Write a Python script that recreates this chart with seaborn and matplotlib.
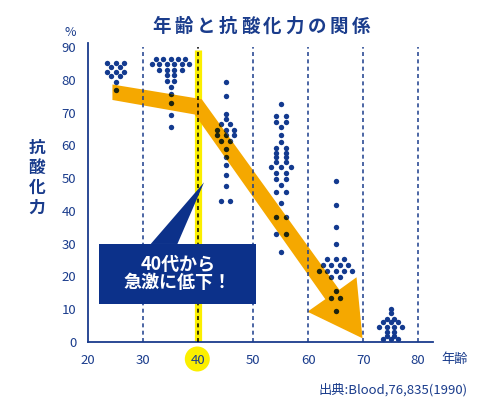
import warnings
warnings.filterwarnings("ignore")
import numpy as np
import pandas as pd
import matplotlib
matplotlib.use("Agg")
import matplotlib.pyplot as plt
import seaborn as sns
from matplotlib.patches import Polygon, Ellipse, Rectangle

# ---------------- data ----------------
ages = [25, 35, 45, 55, 65, 75]
g25 = [85, 85, 85, 84, 84, 82.5, 82.5, 82.5, 81, 81, 79.3, 76.8]
g35 = [86.2, 86.2, 86.2, 86.2, 86.2, 84.7, 84.7, 84.7, 84.7, 84.7, 84.7,
       83, 83, 83, 83, 81.4, 81.4, 79.5, 79.5, 77.8, 75.5, 72.8, 69.3, 65.5]
g45 = [79.2, 74.9, 69.6, 67.9, 66.4, 66.4, 64.6, 64.6, 64.6, 63, 63, 63,
       61.3, 61.3, 58.8, 56.3, 53.9, 50.9, 47.7, 43.1, 43.1]
g55 = [72.7, 68.9, 68.9, 67, 67, 65.5, 63.1, 60.9, 59.2, 59.2, 57.8, 57.8,
       56.3, 56.3, 54.8, 54.8, 53.4, 53.4, 53.4, 51.7, 51.7, 49.8, 49.8,
       47.8, 45.8, 45.8, 42.5, 38, 38, 33, 33, 27.4]
g65 = [49.1, 41.8, 35, 29.8, 25.2, 25.2, 25.2, 23.5, 23.5, 23.5, 23.5,
       21.7, 21.7, 21.7, 21.7, 21.7, 19.9, 19.9, 15.6, 13.3, 13.3, 9.5]
g75 = [10, 8.7, 7, 7, 6, 6, 6, 4.5, 4.5, 4.5, 4.5, 3.1, 3.1, 1.9, 1.9,
       0.8, 0.8, 0.8]
groups = [g25, g35, g45, g55, g65, g75]

xticks = [20, 30, 40, 50, 60, 70, 80]
yticks = [0, 10, 20, 30, 40, 50, 60, 70, 80, 90]
grid_x = [30, 40, 50, 60, 70, 80]
highlight_age = 40
title = "年齢と抗酸化力の関係"
ylabel = "抗酸化力"
xlabel = "年齢"
unit = "%"
source = "出典:Blood,76,835(1990)"
callout = ["40代から", "急激に低下！"]

# arrow outline (data units)
arrow_xy = [(24.44, 78.55), (40.67, 74.07), (65.67, 15.95), (68.8, 19.74),
            (69.89, 1.13), (59.89, 9.24), (63.13, 13.06), (39.4, 69.4),
            (24.44, 73.83)]

# ---------------- style ----------------
sns.set_style("white")
plt.rcParams['font.family'] = ['Noto Sans CJK JP', 'DejaVu Sans']

NAVY = "#1a3c8c"
DOT = "#133a8f"
DARKDOT = "#1c2410"
ORANGE = "#f5a800"
YELLOW = "#fbef00"
BOX = "#0c318a"

W, H = 500, 407
fig = plt.figure(figsize=(W / 100, H / 100), dpi=100)
ax = fig.add_axes([88 / W, 1 - 342 / H, (433 - 88) / W, (342 - 42.7) / H])
ax.set_facecolor('none')
XMIN, XMAX = 20, 82.7
ax.set_xlim(XMIN, XMAX)
ax.set_ylim(0, 91.3)

# dot-plot layout: equal values form a centred row (horizontal pitch, px)
row_pitch_px = [8.4, 7.4, 8.8, 10.0, 8.3, 7.6]
px2x = (XMAX - XMIN) / (433 - 88)


def row_offsets(vals, step):
    vals = np.asarray(vals, dtype=float)
    off = np.zeros(len(vals))
    for v in np.unique(vals):
        idx = np.where(vals == v)[0]
        n = len(idx)
        off[idx] = (np.arange(n) - (n - 1) / 2) * step
    return off


df = pd.DataFrame({
    'age': np.repeat(ages, [len(g) for g in groups]),
    'val': np.concatenate(groups),
    'pos': np.concatenate([a + row_offsets(g, p * px2x)
                           for a, g, p in zip(ages, groups, row_pitch_px)]),
})

DOT_S = 15

# vertical guides
ax.plot([highlight_age, highlight_age], [0, 89], color=YELLOW, lw=5.2,
        solid_capstyle='butt', zorder=1)

sns.scatterplot(data=df, x='pos', y='val', color=DOT, s=DOT_S, linewidth=0,
                ax=ax, zorder=2)

arrow = Polygon(arrow_xy, closed=True, facecolor=ORANGE, edgecolor='none',
                zorder=3)
ax.add_patch(arrow)

for gx in grid_x:
    ax.plot([gx, gx], [0, 90], color=('black' if gx == highlight_age else NAVY),
            lw=1.1, ls=(0, (2.6, 2.2)), zorder=3.5)

n0 = len(ax.collections)
sns.scatterplot(data=df, x='pos', y='val', color=DARKDOT, s=DOT_S,
                linewidth=0, ax=ax, zorder=4)
for c in ax.collections[n0:]:
    c.set_clip_path(arrow)

# callout
ax.add_patch(Polygon([(31.4, 29.9), (36.25, 29.9), (41.09, 48.7)],
                     closed=True, facecolor=BOX, edgecolor='none', zorder=6))
ax.add_patch(Rectangle((21.98, 11.6), 28.6, 18.4, facecolor=BOX,
                       edgecolor='none', zorder=6))
ax.text(36.3, 23.6, callout[0], ha='center', va='center', color='white',
        fontsize=13, weight='bold', zorder=7)
ax.text(36.3, 18.0, callout[1], ha='center', va='center', color='white',
        fontsize=13, weight='bold', zorder=7)

# axes
ax.set_xlim(XMIN, XMAX)
ax.set_ylim(0, 91.3)
ax.set_xticks(xticks)
ax.set_yticks(yticks)
ax.set_xlabel('')
ax.set_ylabel('')
for s in ['top', 'right']:
    ax.spines[s].set_visible(False)
for s in ['left', 'bottom']:
    ax.spines[s].set_color(NAVY)
    ax.spines[s].set_linewidth(1.3)
ax.tick_params(axis='both', colors=NAVY, labelsize=9.5, length=3.5, width=1.1,
               direction='out')
ax.tick_params(axis='y', pad=5)
ax.tick_params(axis='x', pad=5)

# yellow circle behind "40"
fig.add_artist(Ellipse((197.3 / W, 1 - 359 / H), 25 / W, 25 / H,
                       facecolor=YELLOW, edgecolor='none', zorder=-1))

# title, spaced characters
for i, ch in enumerate(title):
    fig.text((162 + i * 22.1) / W, 1 - 26.5 / H, ch, ha='center', va='center',
             fontsize=13.3, weight='bold', color=NAVY)
# vertical y label
for i, ch in enumerate(ylabel):
    fig.text(36.7 / W, 1 - (147.5 + i * 20) / H, ch, ha='center', va='center',
             fontsize=12, weight='bold', color=NAVY)

fig.text(70 / W, 1 - 32 / H, unit, ha='center', va='center', fontsize=9,
         color=NAVY)
fig.text(454.7 / W, 1 - 359.5 / H, xlabel, ha='center', va='center',
         fontsize=9.5, color=NAVY)
fig.text(468 / W, 1 - 390 / H, source, ha='right', va='center',
         fontsize=9.5, color=NAVY)

fig.savefig("out.png", dpi=100)
